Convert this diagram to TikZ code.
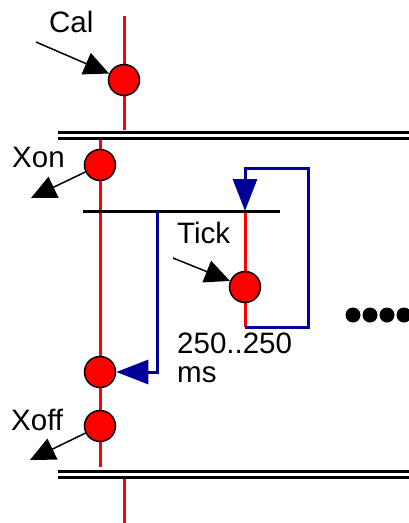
\documentclass[tikz,border=0pt]{standalone}
\usepackage{fontspec}
\setmainfont{Liberation Sans}
\usetikzlibrary{arrows.meta}

\definecolor{navy}{RGB}{0,0,153}
\tikzset{
  ev/.style={circle,draw=black,line width=1.5pt,fill=red,minimum size=31pt,inner sep=0pt},
  lbl/.style={inner sep=0pt,font=\fontsize{29.5}{29}\selectfont},
  tl/.style={red,line width=3pt},
  bar/.style={black,line width=3pt},
  ptr/.style={line width=1.5pt,-{Triangle[length=25pt,width=23pt]}},
  flow/.style={navy,line width=3pt,-{Triangle[length=32pt,width=24pt]}}
}

\begin{document}
\begin{tikzpicture}[x=1pt,y=-1pt]
  \useasboundingbox (0,0) rectangle (409,523);
  % time lines
  \draw[tl] (124,16) -- (124,130);
  \draw[tl] (100,137) -- (100,467);
  \draw[tl] (245,211) -- (245,327);
  \draw[tl] (124,476) -- (124,523);
  % bars
  \draw[bar] (58,132.5) -- (415,132.5);
  \draw[bar] (58,138.5) -- (415,138.5);
  \draw[bar] (58,471) -- (415,471);
  \draw[bar] (58,477.5) -- (415,477.5);
  \draw[bar] (83,211.5) -- (280,211.5);
  % events
  \node[ev] (cal) at (124,80) {};
  \node[ev] (xon) at (100,165) {};
  \node[ev] (tick) at (245,287) {};
  \node[ev] (fire) at (100,372) {};
  \node[ev] (xoff) at (100,426) {};
  % labels
  \node[lbl,anchor=base west] (calL) at (49,32) {Cal};
  \node[lbl,anchor=base west] (xonL) at (12,167) {Xon};
  \node[lbl,anchor=base west] (tickL) at (177,243) {Tick};
  \node[lbl,anchor=base west] (xoffL) at (11,430) {Xoff};
  \node[lbl,anchor=north west,align=left] (span) at (177,333) {250..250\\ms};
  % pointers
  \coordinate (calP) at (36,42);
  \coordinate (xonP) at (31,198);
  \coordinate (tickP) at (173,258);
  \coordinate (xoffP) at (30,460);
  \draw[ptr] (calP) -- (cal);
  \draw[ptr] (xon) -- (xonP);
  \draw[ptr] (tickP) -- (tick);
  \draw[ptr] (xoff) -- (xoffP);
  % timer flow
  \coordinate (split) at (157,211);
  \coordinate (tickEnd) at (245,327);
  \coordinate (tickTop) at (245,211);
  \draw[flow] (split) |- (fire);
  \draw[flow] (tickEnd) -| (308,168) -| (tickTop);
  % more
  \foreach \x in {353,370,387,404}
    \fill (\x,315) circle (7.5);
\end{tikzpicture}
\end{document}
